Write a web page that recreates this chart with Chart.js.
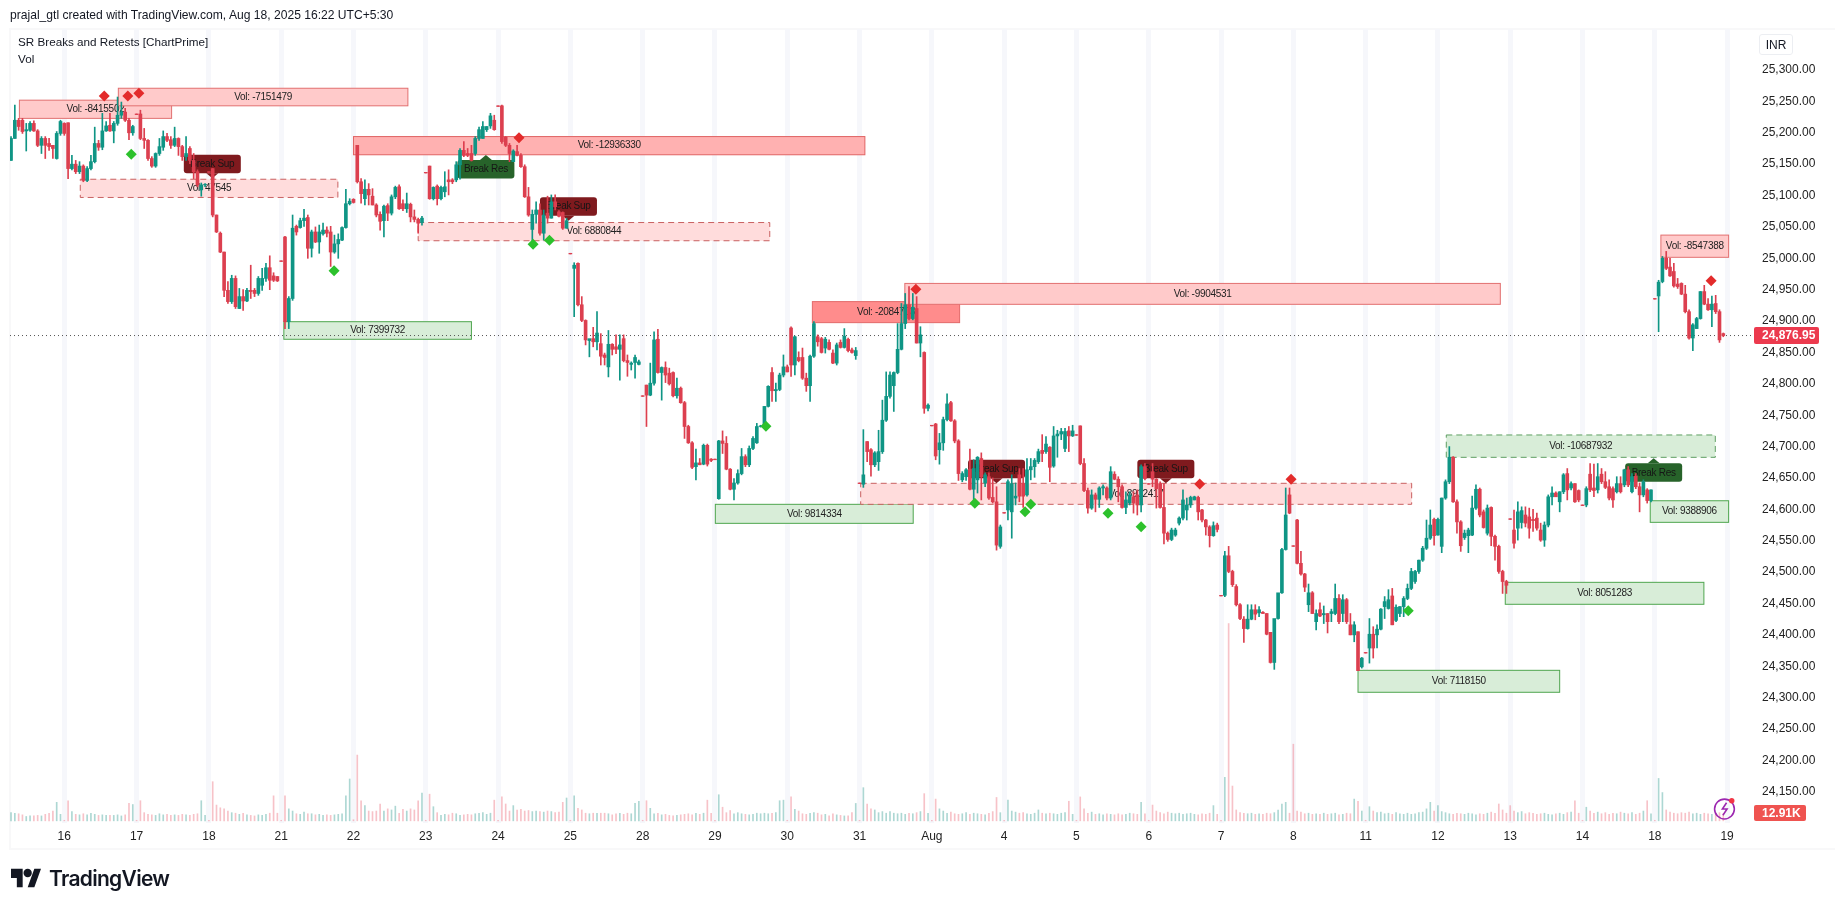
<!DOCTYPE html>
<html>
<head>
<meta charset="utf-8">
<title>NIFTY SR Breaks and Retests</title>
<script src="https://cdn.jsdelivr.net/npm/chart.js@4"></script>
<style>
    html,body{margin:0;padding:0;background:#fff;overflow:hidden;width:1835px;height:909px;font-family:"Liberation Sans",Arial,sans-serif;color:#131722;}
    #price-chart{position:absolute;left:0;top:0;}
    .over{position:absolute;white-space:nowrap;}
    #frame{position:absolute;left:9px;top:28px;width:1826px;height:822px;border:2px solid #f8f8f9;border-right:none;box-sizing:border-box;}
    #header{left:10px;top:8px;font-size:12.1px;}
    #legend1{left:18px;top:35px;font-size:11.7px;}
    #legend2{left:18px;top:52px;font-size:11.7px;}
    #inr{left:1759px;top:34px;width:34px;height:21px;line-height:21px;text-align:center;font-size:12px;border:1px solid #eceef2;border-radius:3px;box-sizing:border-box;}
    #logo{left:11px;top:868px;}
    #logo-text{left:49px;top:866px;font-family:Inter,"Liberation Sans",sans-serif;font-weight:600;font-size:21px;letter-spacing:-0.7px;}
    #bolt{left:1713px;top:796px;}
</style>
</head>
<body>
<div id="frame"></div>
<canvas id="price-chart" width="1835" height="909"></canvas>
<div class="over" id="header">prajal_gtl created with TradingView.com, Aug 18, 2025 16:22 UTC+5:30</div>
<div class="over" id="legend1">SR Breaks and Retests [ChartPrime]</div>
<div class="over" id="legend2">Vol</div>
<div class="over" id="inr">INR</div>
<svg class="over" id="logo" width="30" height="20" viewBox="0 0 36 22"><path fill="#131722" d="M14 22H7V11H0V0h14v22zM28 22h-8L28 0h8l-8 22z"/><circle cx="20" cy="5" r="5" fill="#131722"/></svg>
<div class="over" id="logo-text">TradingView</div>
<svg class="over" id="bolt" width="25" height="25" viewBox="0 0 24 24"><circle cx="11" cy="12.5" r="9.5" fill="none" stroke="#9c27b0" stroke-width="1.5"/><path fill="none" stroke="#9c27b0" stroke-width="1.5" d="M13 6.5l-4 6h4.5l-4 6"/><circle cx="18" cy="4.5" r="2.6" fill="#f23645"/></svg>
<script>
const opens=[
25156,25191,25220,25220,25203,25204,25215,25203,25180,25191,25183,25180,25159,25199,
25215,25216,25143,25150,25138,25147,25124,25143,25154,25183,25177,25203,25212,25203,25215,25228,25233,25220,25200,
25230,25230,25191,25188,25159,25147,25167,25177,25194,25189,25180,25191,25178,25162,25175,25156,25138,25109,25117,
25138,25143,25069,25040,25010,24949,24931,24968,24920,24939,24932,24949,24949,24944,24957,24968,24985,24972,24971,
24996,25034,24899,24936,25051,25049,25060,25065,25016,25042,25026,25039,25045,25042,25010,25023,25029,25049,25087,
25094,25180,25122,25095,25110,25099,25085,25070,25060,25084,25072,25098,25114,25087,25079,25086,25066,25062,25057,
25137,25147,25095,25115,25095,25106,25125,25125,25125,25149,25172,25167,25167,25167,25191,25191,25205,25211,25220,
25243,25243,25193,25180,25154,25170,25164,25146,25098,25046,25070,25077,25040,25072,25064,25090,25074,25073,25048,
25008,24984,24992,24926,24901,24869,24872,24867,24864,24846,24827,24863,24859,24855,24872,24837,24831,24834,24831,
24781,24798,24782,24801,24871,24818,24826,24817,24818,24781,24793,24770,24732,24706,24668,24674,24672,24702,24680,
24680,24617,24709,24705,24664,24632,24642,24657,24684,24671,24697,24706,24732,24734,24764,24818,24789,24791,24814,
24827,24889,24830,24842,24842,24809,24797,24844,24875,24872,24857,24866,24849,24833,24866,24858,24871,24854,24845,
24642,24640,24708,24695,24671,24676,24692,24742,24780,24797,24818,24855,24896,24926,24904,24920,24865,24850,24761,
24734,24736,24695,24706,24743,24770,24741,24709,24647,24652,24664,24632,24647,24681,24642,24652,24619,24612,24541,
24595,24599,24596,24618,24655,24641,24623,24663,24668,24676,24694,24692,24699,24669,24717,24720,24697,24725,24717,
24719,24733,24673,24630,24602,24623,24616,24634,24634,24618,24656,24648,24636,24603,24610,24620,24623,24607,24668,
24641,24660,24648,24641,24603,24562,24552,24559,24578,24586,24599,24607,24615,24619,24599,24583,24572,24558,24575,
24463,24463,24526,24501,24477,24448,24425,24410,24425,24440,24435,24436,24434,24404,24356,24426,24467,24536,24623,
24542,24583,24514,24497,24448,24467,24421,24440,24432,24434,24434,24434,24458,24434,24456,24416,24400,24405,24349,
24372,24379,24401,24400,24409,24445,24442,24462,24423,24434,24445,24458,24474,24485,24501,24519,24538,24554,24584,
24559,24541,24618,24644,24683,24612,24580,24555,24558,24559,24602,24632,24596,24562,24603,24557,24541,24501,24485,
24585,24567,24570,24579,24591,24588,24584,24586,24567,24551,24575,24620,24626,24612,24628,24657,24634,24641,24630,
24607,24607,24656,24634,24631,24656,24644,24636,24633,24628,24641,24639,24663,24628,24653,24636,24623,24631,24614,
24936,24940,24963,25000,24986,24979,24959,24960,24943,24915,24873,24888,24904,24947,24927,24918,24928,24915,24880
];
const highs=[
25194,25244,25223,25223,25215,25218,25219,25205,25194,25194,25191,25180,25202,25220,
25216,25216,25164,25156,25154,25149,25146,25164,25209,25188,25231,25218,25231,25218,25257,25249,25239,25223,25212,
25230,25236,25207,25189,25162,25168,25191,25203,25199,25194,25209,25192,25180,25194,25178,25167,25141,25120,25119,
25138,25143,25069,25042,25010,24963,24973,24972,24952,24950,24952,24989,24952,24971,24984,24992,25004,24977,24971,
24996,25035,24939,25069,25053,25064,25078,25069,25045,25050,25053,25056,25050,25051,25037,25039,25050,25110,25095,
25095,25180,25127,25125,25119,25111,25087,25074,25085,25087,25101,25115,25117,25093,25104,25088,25077,25064,25067,
25137,25147,25114,25117,25115,25138,25141,25127,25154,25175,25186,25175,25180,25194,25209,25218,25210,25231,25228,
25243,25244,25194,25183,25173,25180,25167,25149,25113,25077,25090,25087,25077,25099,25101,25101,25076,25074,25064,
25008,24993,24993,24939,24902,24870,24890,24915,24880,24849,24885,24864,24878,24878,24878,24846,24835,24846,24838,
24781,24798,24833,24883,24887,24827,24835,24825,24819,24809,24795,24772,24734,24708,24696,24681,24704,24704,24681,
24680,24710,24725,24716,24665,24649,24663,24697,24687,24701,24716,24737,24734,24764,24797,24826,24801,24817,24846,
24830,24891,24876,24851,24857,24817,24846,24899,24878,24874,24874,24870,24854,24865,24870,24888,24873,24857,24858,
24642,24727,24708,24697,24692,24726,24774,24819,24819,24819,24896,24928,24944,24955,24944,24939,24891,24851,24768,
24734,24737,24721,24747,24784,24772,24743,24711,24660,24665,24696,24679,24684,24690,24658,24658,24650,24636,24575,
24595,24647,24655,24642,24665,24665,24681,24681,24681,24696,24719,24716,24700,24732,24726,24729,24729,24732,24734,
24719,24733,24681,24634,24631,24626,24636,24639,24636,24668,24660,24652,24639,24628,24628,24628,24631,24671,24673,
24641,24673,24649,24644,24641,24564,24570,24570,24588,24631,24618,24621,24621,24621,24600,24584,24574,24580,24578,
24463,24533,24541,24503,24480,24450,24429,24448,24448,24448,24445,24437,24434,24404,24395,24441,24538,24634,24634,
24542,24584,24533,24498,24481,24469,24440,24451,24446,24434,24441,24481,24464,24464,24458,24434,24421,24405,24364,
24372,24426,24413,24416,24442,24461,24472,24474,24448,24445,24461,24481,24506,24503,24519,24541,24583,24599,24586,
24586,24618,24647,24700,24684,24615,24582,24567,24570,24621,24639,24634,24599,24607,24604,24559,24543,24503,24487,
24585,24599,24612,24604,24604,24602,24600,24594,24578,24580,24623,24636,24628,24628,24657,24665,24644,24641,24631,
24607,24636,24673,24672,24673,24665,24660,24647,24636,24652,24652,24664,24668,24657,24657,24642,24647,24633,24631,
24936,24965,25003,25011,25000,24992,24968,24961,24957,24918,24896,24906,24947,24957,24936,24940,24941,24918,24881
];
const lows=[
25156,25191,25204,25199,25171,25202,25202,25178,25167,25159,25172,25159,25158,25196,
25196,25127,25141,25135,25135,25122,25122,25141,25152,25172,25173,25202,25202,25184,25212,25223,25218,25189,25196,
25229,25189,25175,25156,25145,25145,25164,25172,25186,25175,25178,25164,25156,25156,25151,25127,25114,25099,25114,
25137,25066,25041,25009,24939,24928,24928,24920,24920,24917,24931,24936,24939,24941,24949,24963,24950,24963,24963,
24995,24888,24888,24933,25037,25048,25051,25000,25002,25025,25008,25037,25034,24987,25008,25000,25028,25048,25085,
25088,25120,25088,25085,25085,25085,25066,25045,25034,25060,25069,25095,25078,25076,25073,25058,25058,25040,25053,
25136,25094,25093,25085,25093,25098,25101,25119,25122,25126,25162,25162,25155,25164,25188,25191,25202,25207,25204,
25242,25183,25178,25154,25154,25163,25145,25097,25067,25024,25056,25037,25029,25056,25064,25077,25066,25046,25048,
25007,24907,24924,24899,24862,24843,24859,24854,24830,24830,24811,24846,24848,24806,24835,24812,24822,24809,24830,
24780,24732,24781,24798,24817,24774,24802,24798,24779,24777,24769,24713,24705,24665,24647,24671,24671,24669,24676,
24679,24616,24689,24663,24631,24615,24640,24655,24668,24668,24695,24705,24731,24732,24763,24772,24772,24789,24811,
24819,24812,24814,24835,24807,24788,24772,24842,24860,24849,24849,24854,24832,24830,24857,24857,24851,24849,24839,
24641,24635,24676,24653,24668,24662,24689,24740,24777,24756,24816,24854,24888,24902,24902,24865,24843,24753,24757,
24733,24679,24672,24694,24741,24740,24706,24646,24644,24646,24631,24610,24626,24615,24636,24616,24610,24535,24538,
24594,24583,24554,24607,24612,24603,24621,24647,24651,24673,24676,24689,24644,24667,24683,24711,24692,24692,24716,
24718,24671,24628,24594,24600,24596,24603,24623,24615,24615,24647,24612,24602,24593,24607,24594,24591,24596,24647,
24640,24636,24602,24602,24545,24549,24550,24557,24575,24583,24583,24603,24615,24583,24580,24559,24540,24557,24564,
24462,24461,24499,24477,24446,24424,24388,24409,24424,24424,24429,24434,24400,24355,24345,24425,24466,24535,24593,
24541,24513,24495,24469,24437,24434,24408,24429,24418,24403,24421,24432,24418,24421,24418,24400,24389,24343,24347,
24371,24355,24363,24379,24408,24426,24441,24416,24421,24429,24429,24456,24472,24482,24498,24517,24536,24552,24543,
24559,24531,24616,24641,24611,24562,24533,24552,24531,24558,24600,24588,24570,24559,24542,24519,24498,24466,24466,
24584,24538,24551,24570,24572,24554,24565,24567,24549,24541,24572,24607,24620,24596,24625,24615,24631,24611,24612,
24606,24604,24628,24620,24626,24641,24633,24615,24603,24626,24626,24636,24636,24626,24633,24596,24620,24610,24612,
24935,24883,24961,24982,24971,24954,24952,24942,24913,24871,24853,24888,24903,24926,24917,24891,24912,24866,24875
];
const closes=[
25191,25220,25210,25202,25205,25215,25203,25180,25191,25180,25178,25175,25199,25218,
25199,25143,25150,25138,25147,25124,25143,25154,25183,25177,25203,25211,25203,25215,25228,25233,25220,25200,25210,
25229,25191,25188,25159,25147,25167,25178,25194,25188,25180,25191,25178,25162,25167,25156,25138,25117,25117,25118,
25137,25069,25042,25010,24949,24931,24968,24923,24939,24932,24949,24947,24944,24968,24968,24985,24965,24965,24964,
24995,24899,24936,25048,25042,25060,25064,25016,25042,25026,25042,25045,25040,25010,25023,25030,25049,25087,25091,
25089,25122,25103,25110,25101,25085,25069,25059,25083,25072,25098,25113,25079,25079,25087,25066,25062,25056,25064,
25136,25095,25113,25095,25113,25114,25122,25122,25149,25172,25164,25164,25156,25191,25205,25210,25210,25227,25205,
25242,25186,25180,25167,25171,25164,25146,25098,25069,25070,25077,25040,25069,25064,25090,25082,25067,25048,25060,
25007,24989,24926,24901,24870,24872,24867,24881,24844,24842,24863,24855,24855,24862,24837,24834,24833,24842,24835,
24780,24782,24801,24870,24818,24826,24814,24800,24781,24793,24770,24732,24706,24667,24674,24671,24702,24672,24678,
24679,24709,24705,24664,24632,24642,24657,24684,24671,24697,24713,24732,24733,24764,24796,24789,24791,24814,24827,
24819,24830,24875,24837,24809,24797,24844,24896,24867,24850,24871,24855,24833,24862,24858,24876,24853,24850,24853,
24641,24655,24692,24671,24690,24692,24742,24780,24814,24818,24855,24896,24926,24904,24922,24865,24878,24761,24766,
24733,24685,24706,24743,24768,24741,24709,24657,24657,24663,24632,24665,24683,24652,24655,24618,24612,24543,24572,
24594,24644,24641,24621,24621,24621,24663,24668,24678,24692,24689,24704,24667,24717,24720,24724,24724,24717,24725,
24718,24673,24630,24602,24623,24616,24634,24636,24618,24660,24648,24636,24603,24615,24623,24610,24607,24668,24649,
24640,24648,24633,24603,24562,24552,24567,24567,24586,24615,24607,24619,24620,24596,24583,24572,24558,24574,24568,
24462,24526,24501,24480,24448,24426,24410,24425,24440,24433,24440,24434,24401,24356,24426,24467,24536,24591,24594,
24541,24514,24497,24476,24467,24434,24434,24430,24434,24421,24437,24458,24421,24456,24421,24400,24416,24343,24363,
24371,24401,24379,24409,24441,24453,24456,24416,24444,24445,24458,24474,24501,24501,24519,24538,24554,24575,24558,
24584,24618,24644,24683,24612,24580,24542,24562,24567,24602,24632,24591,24571,24602,24557,24541,24501,24485,24479,
24584,24546,24596,24598,24578,24570,24582,24570,24551,24575,24620,24626,24620,24628,24655,24631,24641,24612,24615,
24606,24633,24631,24630,24652,24644,24635,24618,24615,24641,24628,24663,24639,24652,24636,24623,24644,24614,24631,
24935,24962,25000,24984,24972,24956,24955,24943,24915,24873,24894,24904,24947,24927,24918,24927,24915,24870,24876.95
];
// volume in thousands
const volumes=[
15,14,13,11,8,9,9,10,9,12,14,18,34,12,
1,37,17,12,11,13,11,14,12,10,11,10,10,10,11,9,11,32,30,
1,37,15,12,11,10,13,11,12,10,11,10,12,11,10,12,13,37,10,
1,72,29,24,22,18,15,14,12,14,11,10,9,11,10,12,14,46,14,
1,46,22,18,13,12,16,13,13,11,12,10,11,10,11,12,13,46,77,
2,121,37,28,18,17,18,31,18,22,20,27,14,21,18,22,20,37,51,
1,49,26,15,10,12,11,14,13,10,11,12,11,13,14,15,12,14,38,
1,44,31,18,28,20,21,18,19,17,18,17,16,18,17,15,16,34,42,
1,46,23,20,14,13,14,14,14,14,13,11,13,14,12,14,13,32,36,
1,37,23,13,14,11,12,10,9,10,11,12,13,11,14,12,14,38,14,
1,48,25,15,19,13,15,13,12,11,12,14,13,14,13,14,15,37,38,
1,44,21,18,13,12,14,15,14,11,12,9,13,11,10,9,9,15,32,
1,61,31,22,20,15,17,14,17,14,13,14,12,14,13,15,17,50,14,
1,40,22,18,14,16,13,12,13,15,12,14,13,12,11,14,17,43,15,
1,38,18,16,14,15,13,12,14,20,14,13,14,13,12,14,15,36,12,
1,44,22,14,16,12,13,11,13,12,11,13,11,12,14,13,12,34,13,
1,29,18,15,13,16,14,13,14,12,13,14,12,11,13,12,14,28,12,
1,80,363,64,20,15,14,13,14,12,13,12,14,13,15,20,31,34,14,
141,18,16,13,14,12,13,12,14,12,13,14,11,12,14,13,40,36,18,
1,26,18,15,16,13,14,12,15,13,12,14,12,13,15,16,22,34,18,
28,17,15,13,12,14,13,12,14,13,11,13,12,14,16,14,31,20,14,
28,18,15,17,13,15,14,12,13,14,12,11,13,14,12,15,16,37,14,
1,25,18,14,16,13,15,12,14,13,16,14,13,15,12,14,18,37,13,
1,78,52,20,16,14,13,15,14,16,13,14,12,14,13,12,14,15,12.91
];
const dayTicks=[14,33,52,71,90,109,128,147,166,185,204,223,242,261,280,299,318,337,356,375,394,413,432,451];
const dayLabels=["16","17","18","21","22","23","24","25","28","29","30","31","Aug","4","5","6","7","8","11","12","13","14","18","19"];
const priceTicks=[24150,24200,24250,24300,24350,24400,24450,24500,24550,24600,24650,24700,24750,24800,24850,24900,24950,25000,25050,25100,25150,25200,25250,25300];
const lastPrice=24876.95;
const lastVolumeText="12.91K";

const zoneStart=[2.2,28.2,18.2,90,107,71.7,210.6,234.9,185.1,223.3,377.2,433.6,430.8,392.7,354];
const zoneEnd=[42.2,104.3,85.9,224.4,199.4,121,249.3,391.4,237.1,368.1,447.9,451.4,451.4,444.9,407];
const zoneTop=[25252,25271,25126,25194,25057,24899,24931,24960,24608,24641.5,24718.5,25037,24613.7,24483.7,24343.5];
const zoneBottom=[25223,25243,25097,25165,25028,24871,24897.5,24926.7,24577.7,24608,24682.9,25001.6,24579.3,24448.7,24308.5];
const zoneLabels=["Vol: -8415502","Vol: -7151479","Vol: 47545","Vol: -12936330","Vol: 6880844","Vol: 7399732","Vol: -2084703","Vol: -9904531","Vol: 9814334","Vol: 8912417","Vol: -10687932","Vol: -8547388","Vol: 9388906","Vol: 8051283","Vol: 7118150"];
const zoneKinds=["red","red","redDash","redStrong","redDash","green","redStrongest","red","green","redDash","greenDash","red","green","green","green"];

const redMarkIdx=[24.5,30.7,33.6,133.5,237.8,312.4,336.4,446.8];
const redMarkPrice=[25258.6,25258.6,25262.9,25192.2,24950.6,24640.4,24647.9,24964.3];
const greenMarkIdx=[31.6,84.9,137.2,141.5,198.4,253.3,266.5,268,288.3,297,367.2];
const greenMarkPrice=[25165.7,24980.2,25022.3,25028.7,24732.3,24609.6,24596.2,24608,24593.7,24572.3,24438.5];

const flagIdx=[52.9,124.8,146.5,259,303.5,431.7];
const flagPrice=[25127.5,25164.6,25059.9,24641.5,24641.5,24681.3];
const flagTexts=["Break Sup","Break Res","Break Sup","Break Sup","Break Sup","Break Res"];

const UP='#0f9585',DOWN='#dc3f4f';
const zoneStyles={
    red:{fill:'#ffcaca',line:'#e27070',dash:[]},
    redDash:{fill:'#ffdcdc',line:'#c96060',dash:[6,4]},
    redStrong:{fill:'#ffb1b1',line:'#e06464',dash:[]},
    redStrongest:{fill:'#ff8c8c',line:'#e36a6a',dash:[]},
    green:{fill:'#d8edd8',line:'#4fa64f',dash:[]},
    greenDash:{fill:'#d8edd8',line:'#5f9f63',dash:[6,4]}
};

function isDown(i){ return closes[i]<opens[i]; }
function barColor(ctx){ return isDown(ctx.dataIndex)?DOWN:UP; }

let backdrop={
    id:'backdrop',
    beforeDatasetsDraw(chart){
        let c=chart.ctx,x=chart.scales.x,y=chart.scales.y;
        c.save();
        c.font='10px "Liberation Sans"';
        c.letterSpacing='-0.3px';
        c.textAlign='center';
        c.textBaseline='middle';
        // zones
        zoneStart.forEach((s,i)=>{
            let st=zoneStyles[zoneKinds[i]];
            let x0=x.getPixelForValue(s),x1=x.getPixelForValue(zoneEnd[i]);
            let y0=y.getPixelForValue(zoneTop[i]),y1=y.getPixelForValue(zoneBottom[i]);
            c.fillStyle=st.fill;
            c.fillRect(x0,y0,x1-x0,y1-y0);
            c.strokeStyle=st.line;
            c.lineWidth=1;
            c.setLineDash(st.dash);
            c.strokeRect(x0,y0,x1-x0,y1-y0);
            c.setLineDash([]);
            c.fillStyle='#222';
            c.fillText(zoneLabels[i],(x0+x1)/2,(y0+y1)/2);
        });
        // break flags
        flagIdx.forEach((f,i)=>{
            let px=x.getPixelForValue(f),py=y.getPixelForValue(flagPrice[i]);
            let isRes=flagTexts[i]=='Break Res';
            let top=isRes?py+5:py-23.5;
            c.fillStyle=isRes?'#27632a':'#7f1a1e';
            c.beginPath();
            c.roundRect(px-28.5,top,57,18.5,3);
            c.fill();
            c.beginPath();
            if(isRes){ c.moveTo(px-6,top); c.lineTo(px,py); c.lineTo(px+6,top); }
            else{ c.moveTo(px-6,top+18.5); c.lineTo(px,py); c.lineTo(px+6,top+18.5); }
            c.fill();
            c.fillStyle='#161616';
            c.fillText(flagTexts[i],px,top+9.5);
        });
        // last price line
        let ly=y.getPixelForValue(lastPrice);
        c.strokeStyle='#555';
        c.lineWidth=1;
        c.setLineDash([1,3]);
        c.beginPath();
        c.moveTo(chart.chartArea.left,ly);
        c.lineTo(chart.chartArea.right,ly);
        c.stroke();
        c.restore();
    },
    afterDraw(chart){
        let c=chart.ctx,y=chart.scales.y,right=chart.chartArea.right;
        let ly=y.getPixelForValue(lastPrice);
        c.save();
        c.fillStyle='#ec3a4e';
        c.beginPath();
        c.roundRect(right,ly-8.5,65,17,2);
        c.fill();
        c.fillStyle='#fff';
        c.font='bold 12px "Liberation Sans"';
        c.textAlign='left';
        c.textBaseline='middle';
        c.fillText(lastPrice.toLocaleString('en-US',{minimumFractionDigits:2}),right+8,ly+0.5);
        c.fillStyle='#ef5350';
        c.beginPath();
        c.roundRect(right,805,52,16,2);
        c.fill();
        c.fillStyle='#fff';
        c.fillText(lastVolumeText,right+8,813.5);
        c.restore();
    }
};

const chart=new Chart(document.getElementById('price-chart').getContext('2d'),{
    type:'bar',
    data:{
        datasets:[
            {
                label:'Red marks',type:'scatter',order:1,
                data:redMarkIdx.map((v,i)=>({x:v,y:redMarkPrice[i]})),
                pointStyle:'rectRot',pointRadius:5.5,backgroundColor:'#e32b2b',borderWidth:0
            },
            {
                label:'Green marks',type:'scatter',order:1,
                data:greenMarkIdx.map((v,i)=>({x:v,y:greenMarkPrice[i]})),
                pointStyle:'rectRot',pointRadius:5.5,backgroundColor:'#2cc12c',borderWidth:0
            },
            {
                label:'Body',order:2,grouped:false,barThickness:3,
                data:opens.map((v,i)=>({x:i,y:[v,closes[i]]})),
                backgroundColor:barColor,borderWidth:0,borderSkipped:false
            },
            {
                label:'Wick',order:3,grouped:false,barThickness:1,
                data:highs.map((v,i)=>({x:i,y:[lows[i],v]})),
                backgroundColor:barColor,borderWidth:0,borderSkipped:false
            },
            {
                label:'Volume',order:4,grouped:false,barThickness:1,yAxisID:'vol',
                data:volumes.map((v,i)=>({x:i,y:v})),
                backgroundColor:ctx=>isDown(ctx.dataIndex)?'rgba(236,110,125,0.42)':'rgba(60,160,150,0.42)',
                borderWidth:0
            }
        ]
    },
    options:{
        responsive:false,
        animation:false,
        devicePixelRatio:1,
        layout:{padding:{left:10,top:29,right:0,bottom:59}},
        plugins:{legend:{display:false},tooltip:{enabled:false}},
        scales:{
            x:{
                type:'linear',offset:false,min:-0.27,max:458.07,
                afterBuildTicks:s=>{ s.ticks=dayTicks.map(v=>({value:v})); },
                afterFit:s=>{ s.height=27; },
                grid:{offset:false,color:'#f6f7fb',lineWidth:5,drawTicks:false},
                border:{display:false},
                ticks:{
                    autoSkip:false,maxRotation:0,padding:6,color:'#222',
                    font:{family:'"Liberation Sans"',size:12},
                    callback:v=>dayLabels[dayTicks.indexOf(v)]
                }
            },
            y:{
                position:'right',min:24100.2,max:25365.4,
                afterBuildTicks:s=>{ s.ticks=priceTicks.map(v=>({value:v})); },
                afterFit:s=>{ s.width=81; },
                grid:{display:false,drawTicks:false},
                border:{display:false},
                ticks:{
                    autoSkip:false,padding:8,color:'#222',
                    font:{family:'"Liberation Sans"',size:12},
                    callback:v=>v.toLocaleString('en-US',{minimumFractionDigits:2})
                }
            },
            vol:{display:false,position:'right',min:-4,max:1457}
        }
    },
    plugins:[backdrop]
});
</script>
</body>
</html>
